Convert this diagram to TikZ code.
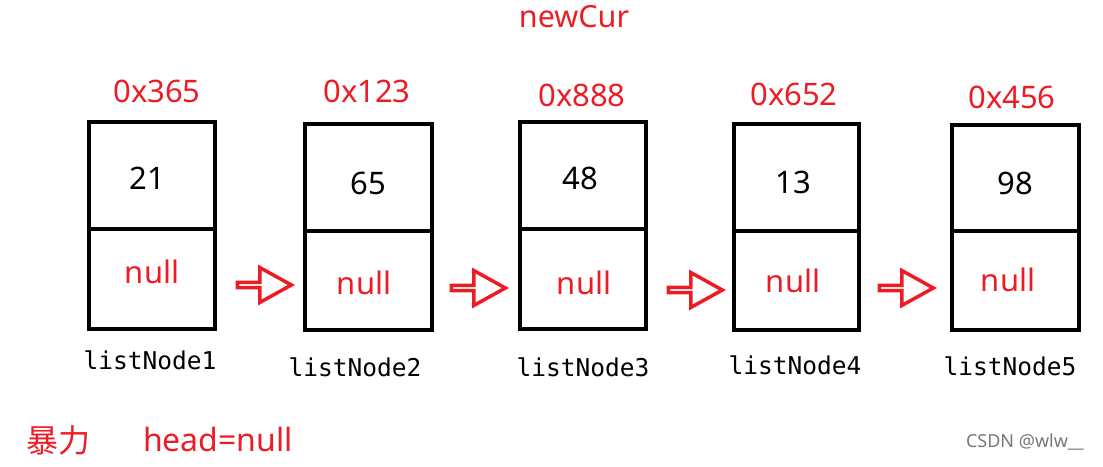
\documentclass[tikz,border=0pt]{standalone}
\usepackage{fontspec}
\setmainfont{Noto Sans}
\newfontfamily\cjkfont{Noto Sans CJK SC}
\newfontfamily\monofont{DejaVu Sans Mono}
\usetikzlibrary{shapes.arrows}
\definecolor{myred}{RGB}{237,28,36}
\definecolor{wmgray}{RGB}{120,120,120}
\tikzset{
  cell/.style={draw=black, line width=3.5pt, minimum width=126pt, inner sep=0pt, anchor=north west},
  addr/.style={text=myred, font=\fontsize{31}{33}\selectfont, inner sep=0pt},
  val/.style={text=black, font=\fontsize{31}{33}\selectfont, inner sep=0pt},
  nul/.style={text=myred, font=\fontsize{31}{33}\selectfont, inner sep=0pt},
  lbl/.style={text=black, font=\monofont\fontsize{24.5}{26}\selectfont, inner sep=0pt},
  blockarrow/.style={single arrow, draw=myred, line width=3.5pt, minimum width=35pt, minimum height=54pt,
    single arrow head extend=10pt, single arrow tip angle=58, inner sep=0pt},
}
\begin{document}
\begin{tikzpicture}[x=1pt,y=-1pt]
\useasboundingbox (0,0) rectangle (1103,466);
% boxes
\node[cell, minimum height=107pt] (t1) at (87,120) {};
\node[cell, minimum height=100pt] (b1) at (87,227) {};
\node[cell, minimum height=107pt, minimum width=127pt] (t2) at (303,122) {};
\node[cell, minimum height=99pt, minimum width=127pt] (b2) at (303,229) {};
\node[cell, minimum height=107pt] (t3) at (518,120) {};
\node[cell, minimum height=100pt] (b3) at (518,227) {};
\node[cell, minimum height=107pt, minimum width=125pt] (t4) at (732,122) {};
\node[cell, minimum height=99pt, minimum width=125pt] (b4) at (732,229) {};
\node[cell, minimum height=106pt, minimum width=127pt] (t5) at (950,123) {};
\node[cell, minimum height=99pt, minimum width=127pt] (b5) at (950,229) {};
% addresses
\node[addr] (a1) at (157,91) {0x365};
\node[addr] (a2) at (367,91) {0x123};
\node[addr] (a3) at (582,95) {0x888};
\node[addr] (a4) at (794,94) {0x652};
\node[addr] (a5) at (1012,97) {0x456};
% values
\node[val] (v1) at (147,178) {21};
\node[val] (v2) at (368,183) {65};
\node[val] (v3) at (580,178) {48};
\node[val] (v4) at (793,182) {13};
\node[val] (v5) at (1015,183) {98};
% null
\node[nul] (n1) at (152,272) {null};
\node[nul] (n2) at (364,283) {null};
\node[nul] (n3) at (584,283) {null};
\node[nul] (n4) at (793,281) {null};
\node[nul] (n5) at (1008,280) {null};
% labels
\node[lbl] (l1) at (150,360) {listNode1};
\node[lbl] (l2) at (355,367) {listNode2};
\node[lbl] (l3) at (583,367) {listNode3};
\node[lbl] (l4) at (795,365) {listNode4};
\node[lbl] (l5) at (1010,366) {listNode5};
% arrows
\node[blockarrow] (ar1) at (262,285) {};
\node[blockarrow] (ar2) at (476,288) {};
\node[blockarrow] (ar3) at (693,290) {};
\node[blockarrow] (ar4) at (904,288) {};
% texts
\node[addr, font=\fontsize{30.5}{32}\selectfont] (nc) at (574,17) {newCur};
\node[text=myred, font=\cjkfont\fontsize{32}{34}\selectfont, inner sep=0pt] (bl) at (58,440) {暴力};
\node[addr, font=\fontsize{32}{34}\selectfont] (hn) at (218,439) {head=null};
\node[text=wmgray, font=\fontsize{18}{20}\selectfont, inner sep=0pt] (wm) at (1025,442) {CSDN @wlw\_\_};
\end{tikzpicture}
\end{document}
